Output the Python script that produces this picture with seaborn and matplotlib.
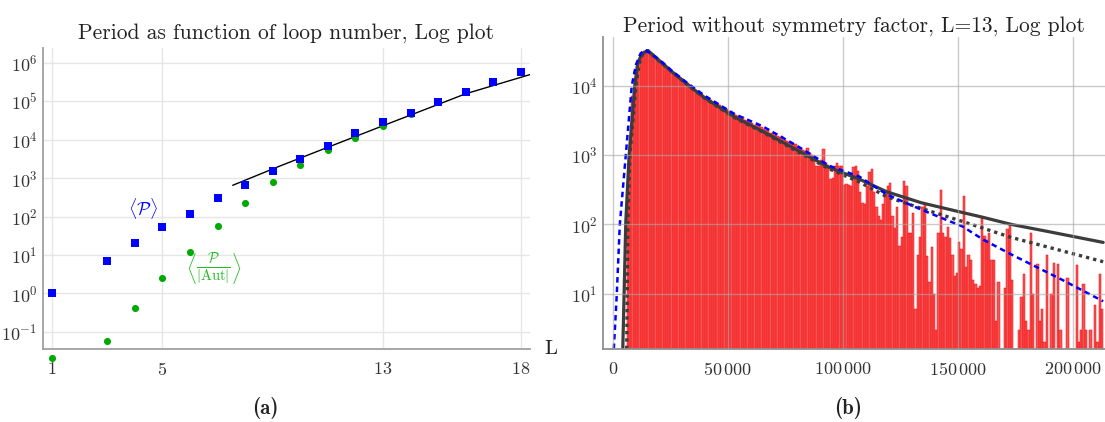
import pandas as pd
import matplotlib
matplotlib.use("Agg")
import matplotlib.pyplot as plt
import matplotlib.ticker as mticker
import seaborn as sns

# ---- panel (a): period vs loop number ----
loops = [1, 3, 4, 5, 6, 7, 8, 9, 10, 11, 12, 13, 14, 15, 16, 17, 18]
period_mean = [1, 6.8, 20, 52, 120, 300, 680, 1550, 3200, 7000, 14500,
               28000, 50000, 98000, 178000, 320000, 590000]
period_aut = [0.021, 0.057, 0.41, 2.5, 11.7, 58, 230, 810, 2240, 5500, 11000,
              23000, 46000, 93000, 172000, 315000, 585000]
fit_L = [7.55, 9.29, 13, 16, 18.56]
fit_period = [650, 2100, 23000, 156000, 550000]

# ---- panel (b): histogram of periods, L=13 ----
bin_first = 6000
bin_width = 1000
bin_counts = [
    250, 1500, 7000, 13000, 19000, 23500, 28500, 31500, 32000, 31500,
    30500, 28800, 26800, 25000, 23200, 21800, 20300, 19000, 17700, 16500,
    15700, 14800, 13800, 12900, 12000, 11400, 10800, 10200, 9600, 9000,
    8500, 8100, 7600, 7100, 6800, 6500, 6300, 5900, 5800, 5400,
    5200, 4900, 4700, 4600, 4300, 4100, 4000, 3800, 3600, 3500,
    3500, 3200, 3100, 3000, 2900, 2750, 2800, 2750, 2500, 2400,
    2300, 2350, 2100, 2050, 1950, 1850, 1800, 1900, 1650, 1600,
    1550, 1500, 1450, 1450, 1300, 1250, 1200, 1150, 1280, 1080,
    1000, 950, 700, 690, 860, 1240, 760, 720, 450, 460,
    700, 770, 690, 690, 370, 380, 370, 360, 680,
    690, 590, 290, 205, 195, 355, 560, 630, 290, 180,
    130, 117, 195, 290, 355, 390, 130, 89, 180, 49,
    66, 420, 355, 76, 74, 148, 6, 36, 66, 180,
    205, 35, 15, 47, 10, 3, 76, 310, 76, 66,
    93, 63, 36, 18, 20, 55, 44, 257, 24, 36,
    31, 16, 14, 12, 13, 125, 67, 60, 76, 31,
    31, 4, 15, 0, 0, 12, 85, 104, 16, 0,
    0, 3, 9, 19, 4, 3, 76, 10, 0, 27,
    4, 6, 2, 36, 0, 10, 28, 0, 27, 3,
    0, 0, 17, 0, 0, 0, 26, 2, 3, 14,
    3, 0, 3, 0, 7, 2, 19, 6,
]

solid_x = [4300, 5600, 7000, 9500, 10800, 12500, 15200, 20000, 25500, 32500, 39800,
           52800, 65000, 79600, 94000, 107000, 119000, 134000, 152000, 161000,
           173000, 189000, 213000]
solid_y = [1.6, 107, 950, 10000, 21000, 28500, 32000, 23000, 16000, 10300, 6700,
           3550, 2200, 1200, 660, 450, 295, 205, 148, 126, 100, 79, 55]
dotted_x = [6000, 6500, 7400, 10000, 11500, 13000, 15200, 20000, 25500, 32500, 39800,
            52800, 65000, 79600, 94000, 107000, 119000, 134000, 152000, 173000, 213000]
dotted_y = [1.6, 107, 1000, 10000, 21000, 28500, 32000, 22800, 16000, 10200, 6600,
            3450, 2150, 1150, 630, 410, 250, 170, 110, 65, 29]
dashed_x = [400, 1700, 3000, 5600, 8200, 10000, 12000, 13900, 20000, 25500, 32500,
            39800, 52800, 65000, 79600, 94000, 107000, 119000, 134000, 152000,
            161000, 173000, 195000, 213000]
dashed_y = [1.6, 10, 100, 1000, 10000, 20000, 29000, 33000, 24000, 16500, 10800,
            7200, 3900, 2600, 1380, 700, 490, 270, 163, 93, 60, 37, 16, 7.8]

sns.set_style("white")
plt.rcParams["font.family"] = "serif"
plt.rcParams["font.serif"] = ["cmr10"]
plt.rcParams["mathtext.fontset"] = "cm"
plt.rcParams["axes.formatter.use_mathtext"] = True
plt.rcParams["axes.unicode_minus"] = False

fig = plt.figure(figsize=(11.05, 4.22), dpi=100)
ax1 = fig.add_axes([0.0389, 0.173, 0.4407, 0.713])
ax2 = fig.add_axes([0.5457, 0.173, 0.4543, 0.739])

# ---------- panel (a) ----------
ax1.set_yscale("log")
sns.lineplot(x=fit_L, y=fit_period, ax=ax1, color="black", linewidth=1.0,
             errorbar=None)
sns.scatterplot(x=loops, y=period_aut, ax=ax1, color="#00aa00", marker="o",
                s=26, linewidth=0, clip_on=False, zorder=3)
sns.scatterplot(x=loops, y=period_mean, ax=ax1, color="#0000ff", marker="s",
                s=30, linewidth=0, zorder=4)
ax1.set_xlim(0.67, 18.33)
ax1.set_ylim(0.036, 2.4e6)
ax1.set_xticks([1, 5, 13, 18])
ax1.set_xticklabels(["$1$", "$5$", "$13$", "$18$"])
ax1.yaxis.set_major_locator(mticker.LogLocator(base=10, numticks=20))
ax1.yaxis.set_minor_locator(mticker.NullLocator())
ax1.grid(True, color="#e6e6e6", linewidth=1.0)
ax1.set_axisbelow(True)
for side in ["top", "right"]:
    ax1.spines[side].set_visible(False)
for side in ["left", "bottom"]:
    ax1.spines[side].set_color("#a0a0a0")
    ax1.spines[side].set_linewidth(1.3)
ax1.tick_params(axis="x", direction="in", length=3, color="#a0a0a0",
                labelsize=13, pad=9, labelcolor="#333333")
ax1.tick_params(axis="y", length=0, labelsize=13, pad=4, labelcolor="#333333")
ax1.set_xlabel("")
ax1.set_ylabel("")
ax1.text(1.03, 0.0, "L", transform=ax1.transAxes, fontsize=15,
         va="center", ha="left", color="#222222")
ax1.text(4.31, 162, r"$\langle\mathcal{P}\rangle$", color="#0000ff",
         fontsize=13, ha="center", va="center")
ax1.text(6.85, 4.5, r"$\left\langle\frac{\mathcal{P}}{|\mathrm{Aut}|}\right\rangle$",
         color="#22bb22", fontsize=15, ha="center", va="center")
ax1.set_title("Period as function of loop number, Log plot", fontsize=15.5,
              color="#222222", pad=7)

# ---------- panel (b) ----------
edges = [bin_first + bin_width * i for i in range(len(bin_counts) + 1)]
hist_df = pd.DataFrame({
    "period": [e + bin_width / 2 for e in edges[:-1]],
    "count": bin_counts,
})
sns.histplot(data=hist_df, x="period", weights="count", bins=edges, ax=ax2,
             color="#f03a3a", alpha=0.85, edgecolor="#ff0000", linewidth=0.35)
ax2.set_yscale("log")
sns.lineplot(x=solid_x, y=solid_y, ax=ax2, color="#3c3c3c", linewidth=2.3,
             errorbar=None)
sns.lineplot(x=dotted_x, y=dotted_y, ax=ax2, color="#3c3c3c", linewidth=2.4,
             errorbar=None)
ax2.lines[-1].set_dashes((1.0, 1.2))
sns.lineplot(x=dashed_x, y=dashed_y, ax=ax2, color="#0000ff", linewidth=1.8,
             errorbar=None)
ax2.lines[-1].set_dashes((2.2, 1.6))
ax2.set_xlim(-4300, 213800)
ax2.set_ylim(1.6, 50000)
ax2.set_xticks([0, 50000, 100000, 150000, 200000])
ax2.set_xticklabels(["$0$", r"$50\,000$", r"$100\,000$", r"$150\,000$",
                     r"$200\,000$"])
ax2.xaxis.set_minor_locator(mticker.MultipleLocator(5000))
ax2.yaxis.set_major_locator(mticker.LogLocator(base=10, numticks=20))
ax2.yaxis.set_minor_locator(mticker.NullLocator())
ax2.grid(True, which="major", color="#a8a8a8", linewidth=1.0, alpha=0.6)
ax2.set_axisbelow(False)
for side in ["top", "right"]:
    ax2.spines[side].set_visible(False)
for side in ["left", "bottom"]:
    ax2.spines[side].set_color("#909090")
    ax2.spines[side].set_linewidth(1.3)
ax2.tick_params(axis="x", which="major", direction="in", length=3,
                color="#909090", labelsize=13, pad=9, labelcolor="#333333")
ax2.tick_params(axis="x", which="minor", direction="in", length=2,
                color="#909090")
ax2.tick_params(axis="y", length=0, labelsize=13, pad=4, labelcolor="#333333")
ax2.set_xlabel("")
ax2.set_ylabel("")
ax2.set_title("Period without symmetry factor, L=13, Log plot", fontsize=15.5,
              color="#222222", pad=4)

fig.text(0.2398, 0.033, "(a)", family="cmb10", fontsize=15, ha="center",
         va="center", color="#222222")
fig.text(0.7674, 0.033, "(b)", family="cmb10", fontsize=15, ha="center",
         va="center", color="#222222")

fig.savefig("out.png", dpi=100)
